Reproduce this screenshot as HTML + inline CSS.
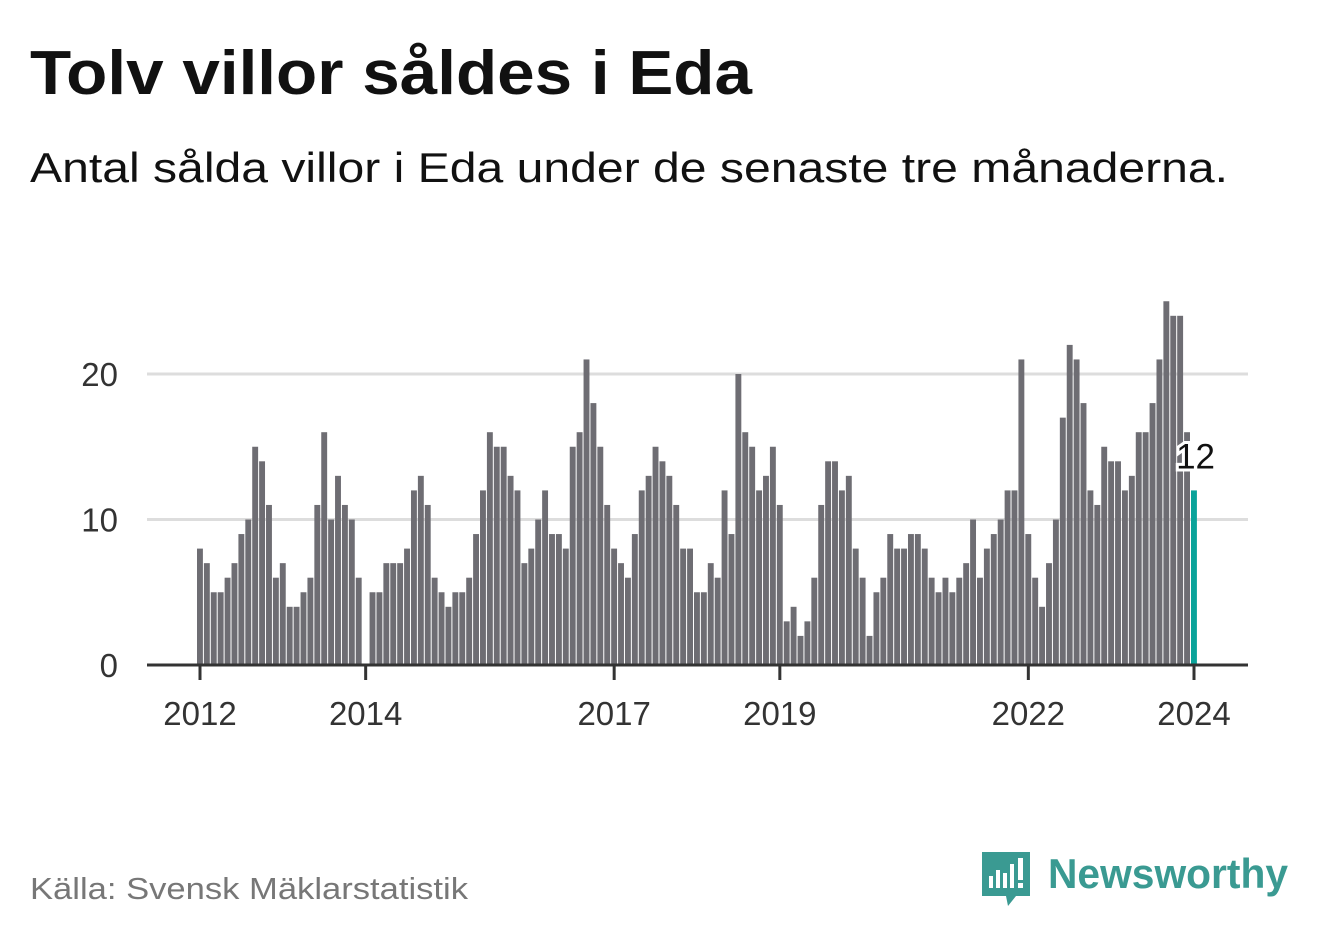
<!DOCTYPE html>
<html><head><meta charset="utf-8"><style>
body{margin:0;background:#fff;width:1322px;height:939px;overflow:hidden;font-family:"Liberation Sans",sans-serif;}
</style></head><body>
<svg width="1322" height="939" xmlns="http://www.w3.org/2000/svg">
<text x="30" y="94" font-size="62" font-weight="bold" fill="#111" textLength="722" lengthAdjust="spacingAndGlyphs">Tolv villor såldes i Eda</text>
<text x="30" y="182" font-size="42" fill="#111" textLength="1198" lengthAdjust="spacingAndGlyphs">Antal sålda villor i Eda under de senaste tre månaderna.</text>
<g id="grid"></g><g id="bars"></g><g id="axis"></g>
<text x="30" y="899" font-size="31" fill="#777" textLength="438" lengthAdjust="spacingAndGlyphs">Källa: Svensk Mäklarstatistik</text>
<g>
<path d="M982 852 h48 v44 h-14 l-8 10 l-2 -10 h-24 z" fill="#3a9a92"/>
<rect x="989" y="876" width="4" height="12" fill="#fff"/><rect x="996" y="870" width="4" height="18" fill="#fff"/><rect x="1003" y="873" width="4" height="15" fill="#fff"/><rect x="1010" y="864" width="4" height="24" fill="#fff"/><rect x="1018" y="858" width="5" height="22" fill="#fff"/><rect x="1018" y="883" width="5" height="5" fill="#fff"/>
<text x="1048" y="888" font-size="42" font-weight="bold" fill="#3a9a92" textLength="240" lengthAdjust="spacingAndGlyphs">Newsworthy</text>
</g>
</svg>
<script>
const years=[2012,2014,2017,2019,2022,2024];
const yTicks=[0,10,20];
const values=[8,7,5,5,6,7,9,10,15,14,11,6,
7,4,4,5,6,11,16,10,13,11,10,6,
0,5,5,7,7,7,8,12,13,11,6,5,
4,5,5,6,9,12,16,15,15,13,12,7,
8,10,12,9,9,8,15,16,21,18,15,11,
8,7,6,9,12,13,15,14,13,11,8,8,
5,5,7,6,12,9,20,16,15,12,13,15,
11,3,4,2,3,6,11,14,14,12,13,8,
6,2,5,6,9,8,8,9,9,8,6,5,
6,5,6,7,10,6,8,9,10,12,12,21,
9,6,4,7,10,17,22,21,18,12,11,15,
14,14,12,13,16,16,18,21,25,24,24,16,
12];
const NS="http://www.w3.org/2000/svg";
const x=i=>200+i*(994/144);
const y=v=>665-v*14.55;
const grid=document.getElementById('grid'),bars=document.getElementById('bars'),axis=document.getElementById('axis');
yTicks.forEach(t=>{
 if(t>0){const l=document.createElementNS(NS,'line');
 l.setAttribute('x1',147);l.setAttribute('x2',1248);l.setAttribute('y1',y(t));l.setAttribute('y2',y(t));
 l.setAttribute('stroke','#ddd');l.setAttribute('stroke-width',3);
 
 
 grid.appendChild(l);}
 const tx=document.createElementNS(NS,'text');
 tx.setAttribute('x',118);tx.setAttribute('y',y(t)+12);tx.setAttribute('text-anchor','end');
 tx.setAttribute('font-size',33);tx.setAttribute('fill','#333');tx.textContent=t;
 
 
 grid.appendChild(tx);
});
values.forEach((v,i)=>{
 const r=document.createElementNS(NS,'rect');
 r.setAttribute('x',x(i)-3);r.setAttribute('width',5.9);r.setAttribute('y',y(v));r.setAttribute('height',v*14.55);
 r.setAttribute('fill',i===values.length-1?'#0aa39a':'#6e6d73');
 
 
 bars.appendChild(r);
});
const last=values.length-1;
const lbl=document.createElementNS(NS,'text');
lbl.setAttribute('x',x(last)+21);lbl.setAttribute('y',y(values[last])-22);lbl.setAttribute('text-anchor','end');
lbl.setAttribute('font-size',35);lbl.setAttribute('fill','#111');lbl.setAttribute('stroke','#fff');lbl.setAttribute('stroke-width',6);lbl.setAttribute('paint-order','stroke');
lbl.textContent=values[last];


bars.appendChild(lbl);
const ax=document.createElementNS(NS,'line');
ax.setAttribute('x1',147);ax.setAttribute('x2',1248);ax.setAttribute('y1',665);ax.setAttribute('y2',665);ax.setAttribute('stroke','#333');ax.setAttribute('stroke-width',3);


axis.appendChild(ax);
years.forEach(yr=>{
 const xi=x((yr-2012)*12);
 const t=document.createElementNS(NS,'line');
 t.setAttribute('x1',xi);t.setAttribute('x2',xi);t.setAttribute('y1',665);t.setAttribute('y2',680);t.setAttribute('stroke','#333');t.setAttribute('stroke-width',3);
 
 
 axis.appendChild(t);
 const tx=document.createElementNS(NS,'text');
 tx.setAttribute('x',xi);tx.setAttribute('y',725);tx.setAttribute('text-anchor','middle');tx.setAttribute('font-size',33);tx.setAttribute('fill','#333');
 tx.textContent=yr;
 
 
 axis.appendChild(tx);
});
</script>
</body></html>
